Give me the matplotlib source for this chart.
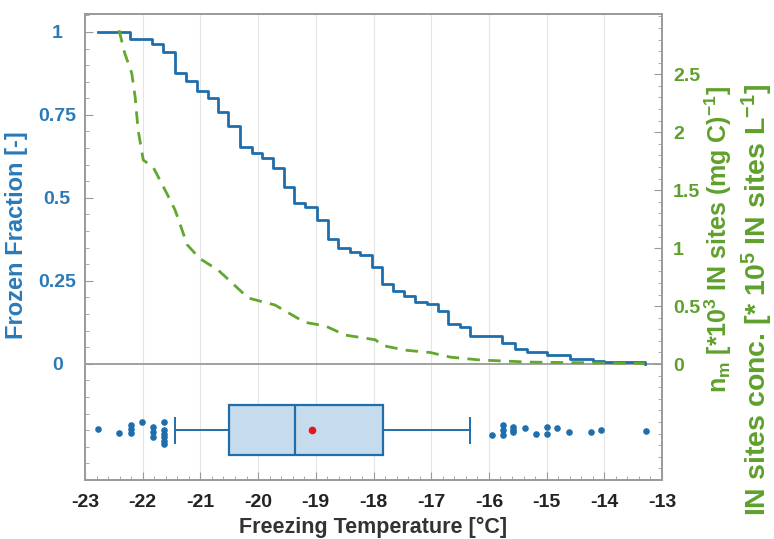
import numpy as np
import matplotlib.pyplot as plt
from matplotlib.ticker import MultipleLocator

plt.rcParams['font.family'] = 'Liberation Sans'
plt.rcParams['font.weight'] = 'bold'
plt.rcParams['axes.unicode_minus'] = False
plt.rcParams['mathtext.fontset'] = 'custom'
plt.rcParams['mathtext.rm'] = 'Liberation Sans:bold'
plt.rcParams['mathtext.bf'] = 'Liberation Sans:bold'
plt.rcParams['mathtext.it'] = 'Liberation Sans:bold'
plt.rcParams['mathtext.default'] = 'bf'

BLUE = '#1f6eab'
BLUE_TXT = '#2a7ab8'
GREEN = '#62a72e'
GREEN_TXT = '#5fa02c'
GRAY = '#9a9a9a'

# Frozen fraction (step curve)
ff_temp = [-22.77, -22.22, -21.84, -21.65, -21.44, -21.25, -21.06, -20.87, -20.69,
           -20.52, -20.31, -20.10, -19.93, -19.74, -19.55, -19.38, -19.19, -18.98,
           -18.79, -18.62, -18.41, -18.23, -18.03, -17.85, -17.66, -17.47, -17.28,
           -17.07, -16.88, -16.71, -16.50, -16.33, -15.77, -15.55, -15.34, -15.00,
           -14.60, -14.20, -14.00, -13.30]
ff_val = [1.000, 0.978, 0.964, 0.940, 0.877, 0.852, 0.822, 0.800, 0.760,
          0.717, 0.654, 0.635, 0.620, 0.590, 0.533, 0.485, 0.473, 0.434,
          0.377, 0.350, 0.337, 0.328, 0.292, 0.241, 0.220, 0.205, 0.187,
          0.180, 0.160, 0.120, 0.110, 0.084, 0.063, 0.045, 0.036, 0.027,
          0.015, 0.009, 0.005, 0.000]

# IN sites (right axis)
nm_temp = [-22.41, -22.31, -22.19, -22.13, -22.08, -21.99, -21.82, -21.58, -21.44,
           -21.32, -21.23, -21.01, -20.69, -20.17, -19.71, -19.19, -18.84, -18.49,
           -17.97, -17.84, -17.45, -17.02, -16.67, -16.15, -15.29, -13.30]
nm_val = [2.88, 2.68, 2.51, 2.30, 2.02, 1.76, 1.70, 1.47, 1.33,
          1.16, 1.03, 0.91, 0.81, 0.57, 0.51, 0.36, 0.33, 0.25,
          0.21, 0.16, 0.12, 0.10, 0.06, 0.035, 0.017, 0.005]

# Box plot of freezing temperatures
box_q1, box_med, box_q3 = -20.50, -19.36, -17.83
box_whislo, box_whishi = -21.44, -16.33
box_mean = -19.07
out_temp = [-22.77, -22.41, -22.20, -22.20, -22.20, -22.01, -21.82, -21.82, -21.82,
            -21.63, -21.63, -21.63, -21.63, -21.63, -21.63,
            -15.95, -15.76, -15.76, -15.76, -15.58, -15.58, -15.58, -15.37, -15.18,
            -14.99, -14.99, -14.82, -14.61, -14.23, -14.06, -13.28]
out_y = [-0.196, -0.208, -0.184, -0.196, -0.208, -0.175, -0.190, -0.205, -0.220,
         -0.175, -0.199, -0.211, -0.220, -0.232, -0.241,
         -0.214, -0.184, -0.199, -0.214, -0.190, -0.199, -0.205, -0.193, -0.211,
         -0.190, -0.211, -0.193, -0.205, -0.205, -0.199, -0.202]
box_pos = -0.2

fig = plt.figure(figsize=(7.74, 5.39), dpi=100)
ax = fig.add_axes([85 / 774, 1 - 480 / 539, (662 - 85) / 774, (480 - 14) / 539])
ax2 = ax.twinx()

ax.set_xlim(-23, -13)
ax.set_ylim(-0.35, 1.054)
ax2.set_ylim(-1.0, 3.02)

for x in range(-22, -13):
    ax.axvline(x, color='#e4e4e4', lw=0.8, zorder=0)
ax.axhline(0, color=GRAY, lw=1.3, zorder=1)

ax.step(ff_temp, ff_val, where='post', color=BLUE, lw=2.0, zorder=3)
ax2.plot(nm_temp, nm_val, color=GREEN, lw=2.0, dashes=(4.5, 3))

stats = [dict(q1=box_q1, med=box_med, q3=box_q3, whislo=box_whislo,
              whishi=box_whishi, mean=box_mean, fliers=[])]
ax.bxp(stats, positions=[box_pos], widths=0.15, orientation='horizontal',
       showmeans=True, patch_artist=True,
       boxprops=dict(facecolor='#c6dcec', edgecolor=BLUE, lw=1.6),
       medianprops=dict(color=BLUE, lw=1.6),
       whiskerprops=dict(color=BLUE, lw=1.4),
       capprops=dict(color=BLUE, lw=1.4),
       meanprops=dict(marker='o', markerfacecolor='#e8141b', markeredgecolor='#e8141b',
                      markersize=4.5))
ax.scatter(out_temp, out_y, s=14, color=BLUE, zorder=4)

# ticks and axes
ax.set_yticks([0, 0.25, 0.5, 0.75, 1])
ax.set_yticklabels(['0', '0.25', '0.5', '0.75', '1'], ha='center')
ax.yaxis.set_minor_locator(MultipleLocator(0.05))
ax.set_xticks(range(-23, -12))
ax.xaxis.set_minor_locator(MultipleLocator(0.2))
ax2.set_yticks([0, 0.5, 1, 1.5, 2, 2.5])
ax2.set_yticklabels(['0', '0.5', '1', '1.5', '2', '2.5'])
ax2.yaxis.set_minor_locator(MultipleLocator(0.1))

ax.tick_params(axis='both', which='both', direction='in', color=GRAY)
ax.tick_params(axis='y', which='major', length=6, labelsize=14, labelcolor=BLUE_TXT, pad=20)
ax.tick_params(axis='y', which='minor', length=3)
ax.tick_params(axis='x', which='major', length=6, labelsize=14, labelcolor='#222222', pad=10)
ax.tick_params(axis='x', which='minor', length=3)
ax2.tick_params(axis='y', which='both', direction='in', color=GRAY)
ax2.tick_params(axis='y', which='major', length=6, labelsize=14, labelcolor=GREEN_TXT, pad=8)
ax2.tick_params(axis='y', which='minor', length=3)

for a in (ax, ax2):
    for s in a.spines.values():
        s.set_color(GRAY)
        s.set_linewidth(1.2)

ax.set_xlabel('Freezing Temperature [°C]', fontsize=15.5, fontweight='bold',
              color='#333333', labelpad=4)
ax.set_ylabel('Frozen Fraction [-]', fontsize=17, fontweight='bold', color=BLUE_TXT)
ax.yaxis.set_label_coords(-0.098, 0.526)

fig.text(718 / 774, 1 - 86 / 539, r'$\mathbf{n_m}$ [*10$^{3}$ IN sites (mg C)$^{-1}$]',
         rotation=90, ha='center', va='top', fontsize=18, color=GREEN_TXT)
fig.text(757 / 774, 1 - 84 / 539, r'IN sites conc. [* 10$^{5}$ IN sites L$^{-1}$]',
         rotation=90, ha='center', va='top', fontsize=20.5, color=GREEN_TXT)

fig.savefig('out.png', dpi=100)
